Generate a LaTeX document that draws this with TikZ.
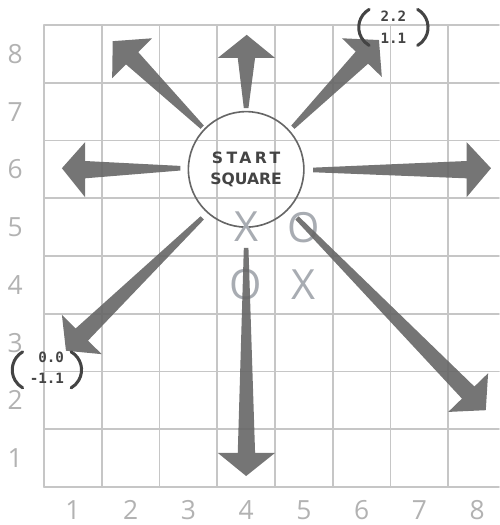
\documentclass[tikz,border=0pt]{standalone}
\usepackage{fontspec}
\setmainfont{Open Sans}
\newfontfamily\titrefont{DejaVu Sans}
\newfontfamily\vecfont{DejaVu Sans Mono}
\usetikzlibrary{calc}

\definecolor{grisgrille}{RGB}{198,198,198}
\definecolor{grischiffre}{RGB}{178,178,178}
\definecolor{grispion}{RGB}{168,172,178}
\definecolor{grisfleche}{RGB}{102,102,102}
\definecolor{gristexte}{RGB}{68,68,68}

% fleche epaisse : depart, pointe, barbe 1, barbe 2
\newcommand{\grossefleche}[4]{%
  \coordinate (d) at (#1);
  \coordinate (p) at (#2);
  \coordinate (b1) at (#3);
  \coordinate (b2) at (#4);
  \coordinate (m) at ($(b1)!0.5!(b2)$);
  \coordinate (d1) at ($(d)+(b1)-(m)$);
  \coordinate (d2) at ($(d)+(b2)-(m)$);
  \fill[fleche] ($(d)!0.04cm!(d1)$) -- ($(m)!0.15cm!(b1)$) -- (b1) -- (p)
    -- (b2) -- ($(m)!0.15cm!(b2)$) -- ($(d)!0.04cm!(d2)$) -- cycle;
}

\tikzset{
  grille/.style={draw=grisgrille, line width=0.9pt},
  chiffre/.style={text=grischiffre, font=\fontsize{13}{15}\selectfont, inner sep=0pt},
  pion/.style={text=grispion, font=\fontsize{20.5}{24}\selectfont, inner sep=0pt},
  depart/.style={circle, draw=grisfleche, line width=0.8pt, minimum size=2cm, inner sep=0pt,
    align=center, text=gristexte, font=\titrefont\bfseries\fontsize{7.7}{10.8}\selectfont},
  fleche/.style={fill=grisfleche, fill opacity=0.9},
  vecteur/.style={align=right, inner sep=0pt, text=gristexte,
    font=\vecfont\bfseries\fontsize{7}{10.5}\selectfont},
  parenthese/.style={draw=gristexte, line width=1.5pt}
}

\begin{document}
\begin{tikzpicture}[line cap=round,line join=round]
  \useasboundingbox (-0.262,-0.158) rectangle (8.379,8.933);
  % grille
  \foreach \y in {0.5,1.5,...,8.5}
    \draw[grille] (0.5,\y) -- (8.379,\y);
  \foreach \x in {0.5,1.5,...,7.5}
    \draw[grille] (\x,0.5) -- (\x,8.5);
  % numeros
  \foreach \i in {1,...,8} {
    \node[chiffre, anchor=base] (c\i) at (\i,-0.06) {\i};
    \node[chiffre] (r\i) at (0,\i) {\i};
  }
  % case de depart
  \node[depart] (sq) at (4,6) {{\addfontfeature{LetterSpace=22}START}\\SQUARE};
  % pions
  \node[pion] (x1) at (4,5) {X};
  \node[pion] (o1) at (5,5) {O};
  \node[pion] (o2) at (4,4) {O};
  \node[pion] (x2) at (5,4) {X};
  % fleches
  \grossefleche{4,7.06}{4.01,8.33}{3.51,7.93}{4.5,7.93}
  \grossefleche{3.24,6.73}{1.69,8.22}{2.37,8.27}{1.68,7.58}
  \grossefleche{4.81,6.73}{6.30,8.24}{5.66,8.27}{6.35,7.60}
  \grossefleche{2.86,6.02}{0.81,6.02}{1.21,6.47}{1.21,5.52}
  \grossefleche{5.16,5.99}{8.24,6.02}{7.82,6.47}{7.82,5.52}
  \grossefleche{3.24,5.16}{0.88,2.86}{0.81,3.48}{1.50,2.80}
  \grossefleche{4,4.64}{4,0.69}{3.51,1.09}{4.5,1.09}
  \grossefleche{4.88,5.16}{8.15,1.83}{8.19,2.47}{7.50,1.80}
  % vecteurs
  \node[vecteur] (v1) at (6.55,8.46) {2.2\\1.1};
  \draw[parenthese] ([shift={(-0.42,0.31)}]v1.center) arc[start angle=120, end angle=240, radius=0.36];
  \draw[parenthese] ([shift={(0.42,0.31)}]v1.center) arc[start angle=60, end angle=-60, radius=0.36];
  \node[vecteur] (v2) at (0.55,2.57) {0.0\\-1.1};
  \draw[parenthese] ([shift={(-0.42,0.27)}]v2.center) arc[start angle=120, end angle=240, radius=0.36];
  \draw[parenthese] ([shift={(0.42,0.27)}]v2.center) arc[start angle=60, end angle=-60, radius=0.36];
\end{tikzpicture}
\end{document}
